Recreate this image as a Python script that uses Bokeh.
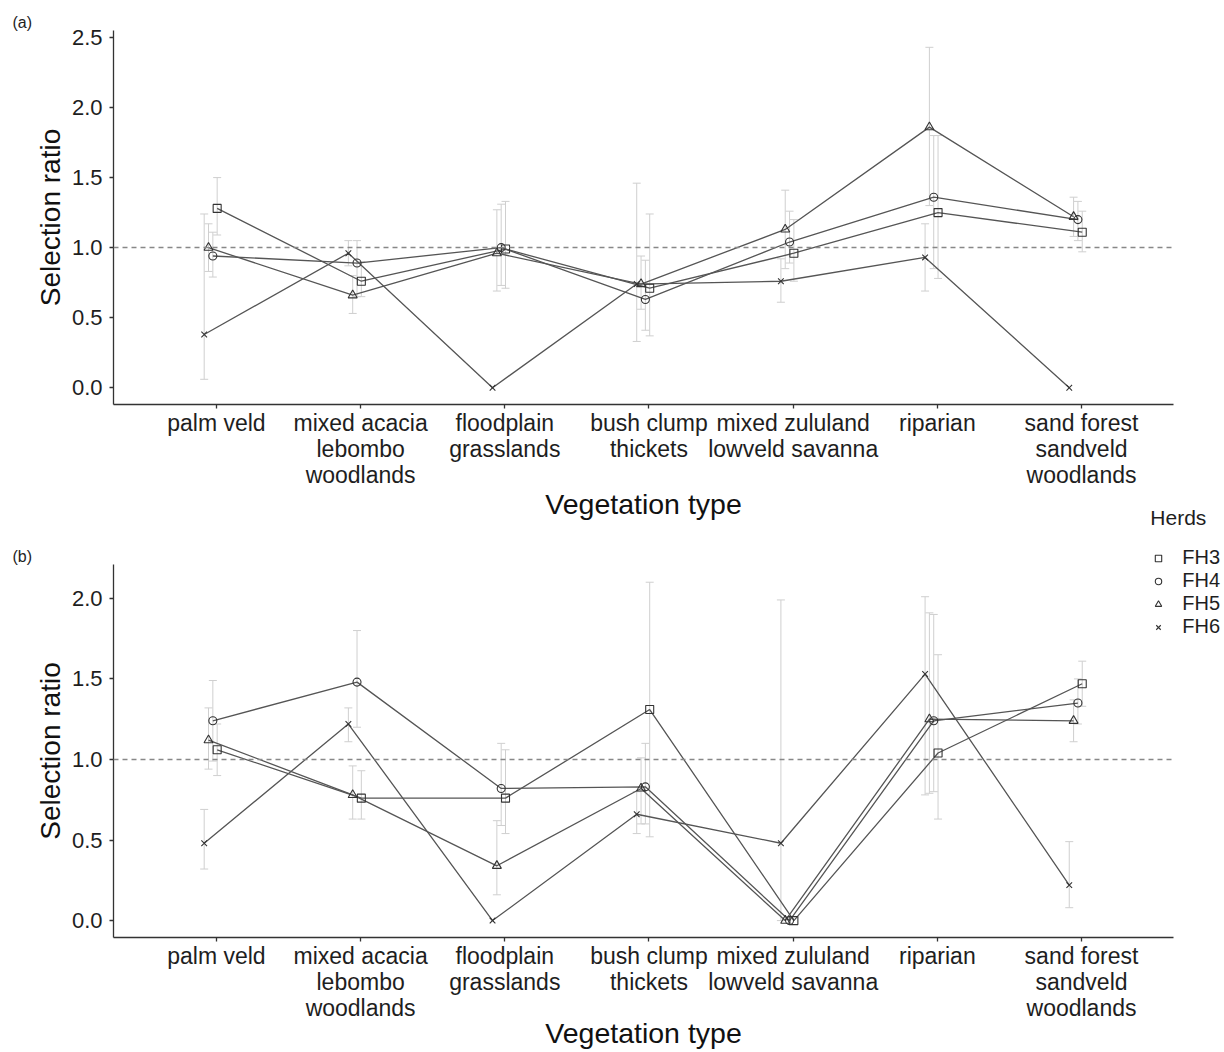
from bokeh.plotting import figure
from bokeh.layouts import column
from bokeh.models import (ColumnDataSource, Whisker, TeeHead, Span, Legend, LegendItem,
                          FixedTicker, NumeralTickFormatter, Range1d)
from bokeh.embed import file_html
from bokeh.resources import INLINE

# ---------------- data ----------------
categories = ["palm veld", "mixed acacia\nlebombo\nwoodlands", "floodplain\ngrasslands",
              "bush clump\nthickets", "mixed zululand\nlowveld savanna", "riparian",
              "sand forest\nsandveld\nwoodlands"]
herds = ["FH3", "FH4", "FH5", "FH6"]

# panel (a)
a_FH3 = [1.28, 0.76, 0.99, 0.71, 0.96, 1.25, 1.11]
a_FH4 = [0.94, 0.89, 1.00, 0.63, 1.04, 1.36, 1.20]
a_FH5 = [1.00, 0.66, 0.96, 0.74, 1.13, 1.86, 1.22]
a_FH6 = [0.38, 0.96, 0.00, 0.74, 0.76, 0.93, 0.00]
a_FH3_lo = [1.09, 0.65, 0.71, 0.37, 0.76, 0.78, 0.97]
a_FH3_hi = [1.50, 0.90, 1.33, 1.24, 1.20, 1.80, 1.26]
a_FH4_lo = [0.79, 0.65, 0.73, 0.41, 0.89, 0.85, 1.05]
a_FH4_hi = [1.11, 1.05, 1.31, 0.91, 1.26, 1.80, 1.33]
a_FH5_lo = [0.83, 0.53, 0.69, 0.56, 0.85, 1.30, 1.08]
a_FH5_hi = [1.17, 0.80, 1.27, 0.94, 1.41, 2.43, 1.36]
a_FH6_lo = [0.06, 0.87, 0.00, 0.33, 0.61, 0.69, 0.00]
a_FH6_hi = [1.24, 1.05, 0.00, 1.46, 0.92, 1.17, 0.00]

# panel (b)
b_FH3 = [1.06, 0.76, 0.76, 1.31, 0.00, 1.04, 1.47]
b_FH4 = [1.24, 1.48, 0.82, 0.83, 0.00, 1.24, 1.35]
b_FH5 = [1.12, 0.78, 0.34, 0.82, 0.00, 1.25, 1.24]
b_FH6 = [0.48, 1.22, 0.00, 0.66, 0.48, 1.53, 0.22]
b_FH3_lo = [0.90, 0.63, 0.54, 0.52, 0.00, 0.63, 1.33]
b_FH3_hi = [1.22, 0.93, 1.06, 2.10, 0.00, 1.65, 1.61]
b_FH4_lo = [0.99, 1.20, 0.59, 0.60, 0.00, 0.80, 1.22]
b_FH4_hi = [1.49, 1.80, 1.10, 1.10, 0.00, 1.90, 1.50]
b_FH5_lo = [0.94, 0.63, 0.16, 0.60, 0.00, 0.79, 1.11]
b_FH5_hi = [1.32, 0.96, 0.62, 1.01, 0.00, 1.91, 1.37]
b_FH6_lo = [0.32, 1.11, 0.00, 0.54, 0.00, 0.78, 0.08]
b_FH6_hi = [0.69, 1.32, 0.00, 0.80, 1.99, 2.01, 0.49]

a_ticks = [0.0, 0.5, 1.0, 1.5, 2.0, 2.5]
b_ticks = [0.0, 0.5, 1.0, 1.5, 2.0]

# ---------------- style ----------------
FONT = "Liberation Sans"
markers = {"FH3": "square", "FH4": "circle", "FH5": "triangle", "FH6": "x"}
msize = {"FH3": 8, "FH4": 8, "FH5": 9, "FH6": 8}
offsets = {"FH3": 0.005, "FH4": -0.025, "FH5": -0.055, "FH6": -0.085}
ERR_COL = "#cfcfcf"
LINE_COL = "#555555"
MK_COL = "#333333"
AX_COL = "#333333"
TXT_COL = "#1e1e1e"


def make_panel(tag, series, yr, yticks, height, top, bottom, xlab_standoff):
    p = figure(width=1224, height=height, x_range=(0.286, 7.638), y_range=yr,
               output_backend="svg", toolbar_location=None, title=tag,
               min_border_left=113, min_border_right=51,
               min_border_top=top, min_border_bottom=bottom)
    p.title.text_font = FONT
    p.title.text_font_size = "16px"
    p.title.text_font_style = "normal"
    p.title.text_color = TXT_COL
    p.title.align = "left"
    p.title.offset = -101
    p.title.standoff = 0
    p.outline_line_color = None
    p.xgrid.visible = False
    p.ygrid.visible = False

    for ax in (p.xaxis[0], p.yaxis[0]):
        ax.axis_line_color = AX_COL
        ax.axis_line_width = 1.3
        ax.major_tick_line_color = AX_COL
        ax.major_tick_line_width = 1.3
        ax.major_tick_out = 4
        ax.major_tick_in = 0
        ax.minor_tick_line_color = None
        ax.major_label_text_font = FONT
        ax.major_label_text_color = TXT_COL
        ax.axis_label_text_font = FONT
        ax.axis_label_text_font_style = "normal"
        ax.axis_label_text_color = "#111111"

    p.xaxis.ticker = FixedTicker(ticks=list(range(1, len(categories) + 1)))
    p.xaxis.major_label_overrides = {i + 1: c for i, c in enumerate(categories)}
    p.xaxis.major_label_text_font_size = "23px"
    p.xaxis.major_label_standoff = 1
    p.xaxis.major_label_text_line_height = 1.0
    p.xaxis.axis_label = "Vegetation type"
    p.xaxis.axis_label_text_font_size = "28.5px"
    p.xaxis.axis_label_standoff = xlab_standoff
    p.xaxis.axis_label_text_line_height = 1.0

    p.yaxis.ticker = FixedTicker(ticks=yticks)
    p.yaxis.formatter = NumeralTickFormatter(format="0.0")
    p.yaxis.major_label_text_font_size = "22px"
    p.yaxis.major_label_standoff = 7
    p.yaxis.axis_label = "Selection ratio"
    p.yaxis.axis_label_text_font_size = "28px"
    p.yaxis.axis_label_standoff = 3

    p.add_layout(Span(location=1.0, dimension="width", line_color="#888888",
                      line_dash="5 4", line_width=1.5))

    srcs = {}
    for h in herds:
        y, lo, hi = series[h]
        xs = [i + 1 + offsets[h] for i in range(len(categories))]
        srcs[h] = ColumnDataSource(dict(x=xs, y=y))
        keep = [i for i in range(len(xs)) if hi[i] > lo[i]]
        esrc = ColumnDataSource(dict(x=[xs[i] for i in keep], lo=[lo[i] for i in keep],
                                     hi=[hi[i] for i in keep]))
        w = Whisker(source=esrc, base="x", lower="lo", upper="hi",
                    line_color=ERR_COL, line_width=1,
                    upper_head=TeeHead(size=8, line_color=ERR_COL, line_width=1),
                    lower_head=TeeHead(size=8, line_color=ERR_COL, line_width=1))
        p.add_layout(w)
    for h in herds:
        p.line("x", "y", source=srcs[h], line_color=LINE_COL, line_width=1.3)
    for h in herds:
        p.scatter("x", "y", source=srcs[h], marker=markers[h], size=msize[h],
                  fill_alpha=0, line_color=MK_COL, line_width=1.1)
    return p


series_a = {"FH3": (a_FH3, a_FH3_lo, a_FH3_hi), "FH4": (a_FH4, a_FH4_lo, a_FH4_hi),
            "FH5": (a_FH5, a_FH5_lo, a_FH5_hi), "FH6": (a_FH6, a_FH6_lo, a_FH6_hi)}
series_b = {"FH3": (b_FH3, b_FH3_lo, b_FH3_hi), "FH4": (b_FH4, b_FH4_lo, b_FH4_hi),
            "FH5": (b_FH5, b_FH5_lo, b_FH5_hi), "FH6": (b_FH6, b_FH6_lo, b_FH6_hi)}

pa = make_panel("(a)", series_a, (-0.12, 2.55), a_ticks, 540, 30, 136, -3)
pb = make_panel("(b)", series_b, (-0.105, 2.21), b_ticks, 512, 24, 115, -7)
pb.border_fill_alpha = 0
pb.background_fill_alpha = 0

# ---------------- legend (its own small canvas, overlapping the gap) ----------------
LEG_W, LEG_H, LEG_TOP = 84, 150, 40
pl = figure(width=LEG_W, height=LEG_H, x_range=Range1d(0, 1), y_range=Range1d(0, 1),
            output_backend="svg", toolbar_location=None,
            x_axis_location=None, y_axis_location=None, min_border=0,
            margin=(-LEG_TOP, 0, -(LEG_H - LEG_TOP), 1140))
pl.outline_line_color = None
pl.xgrid.visible = False
pl.ygrid.visible = False
pl.border_fill_alpha = 0
pl.background_fill_alpha = 0
items = []
for h in herds:
    # legend-key renderer: one hidden point outside the (0, 1) ranges of this small canvas
    r = pl.scatter(x=[-5], y=[-5], marker=markers[h], size=6, fill_alpha=0,
                   line_color=MK_COL, line_width=1.1)
    items.append(LegendItem(label=h, renderers=[r]))
leg = Legend(items=items, location=(9, 12), title="Herds",
             title_text_font=FONT, title_text_font_size="21px", title_text_color=TXT_COL,
             title_text_font_style="normal",
             label_text_font=FONT, label_text_font_size="20px", label_text_color=TXT_COL,
             glyph_width=16, glyph_height=22, label_height=22, label_standoff=16,
             spacing=0, padding=0, margin=0, title_standoff=16,
             border_line_color=None, background_fill_alpha=0)
pl.add_layout(leg)

layout = column(pa, pl, pb, spacing=0)
open("out.html", "w").write(file_html(layout, INLINE))
